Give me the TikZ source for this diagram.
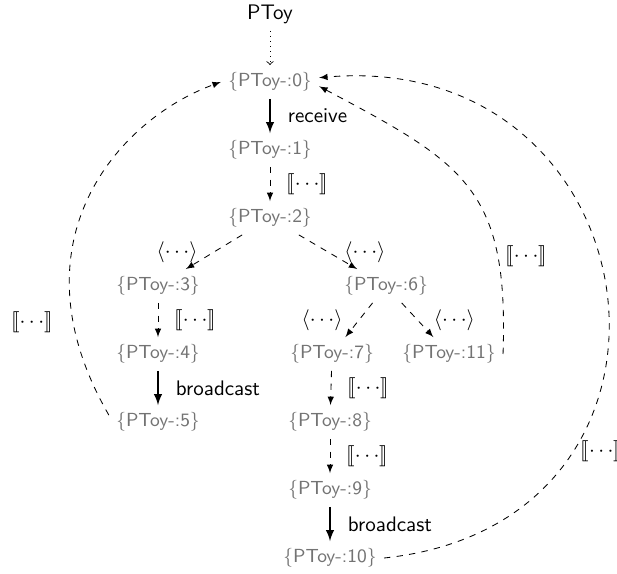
\documentclass[tikz,border=0pt]{standalone}
\usepackage{stmaryrd}
\usetikzlibrary{arrows}
\newlength{\du}
\setlength{\du}{0.475pt}
\definecolor{stategray}{rgb}{0.45,0.45,0.45}
\tikzset{
  state/.style={font=\small\sffamily, text=stategray},
  act/.style={thick, -latex},
  tau/.style={dashed, -latex},
  lbl/.style={font=\sffamily, right=10\du},
  lblr/.style={right=9\du},
  lbll/.style={left=9\du},
}
\begin{document}
\begin{tikzpicture}
\useasboundingbox (0\du,0\du) rectangle (617\du,-574\du);
% states
\node[font=\sffamily] (top) at (270\du,-14\du){PToy};
\node[state] (s0) at (270\du,-82\du){\{PToy-:0\}};
\node[state] (s1) at (270\du,-150\du){\{PToy-:1\}};
\node[state] (s2) at (270\du,-218\du){\{PToy-:2\}};
\node[state] (s3) at (158\du,-286\du){\{PToy-:3\}};
\node[state] (s4) at (158\du,-354\du){\{PToy-:4\}};
\node[state] (s5) at (158\du,-422\du){\{PToy-:5\}};
\node[state] (s6) at (386\du,-286\du){\{PToy-:6\}};
\node[state] (s7) at (332\du,-354\du){\{PToy-:7\}};
\node[state] (s8) at (330\du,-422\du){\{PToy-:8\}};
\node[state] (s9) at (330\du,-490\du){\{PToy-:9\}};
\node[state] (s10) at (330\du,-558\du){\{PToy-:10\}};
\node[state] (s11) at (449\du,-354\du){\{PToy-:11\}};
% transitions
\draw[dotted, ->] (top) -- (s0);
\draw[act] (s0) -- node[lbl]{receive} (s1);
\draw[tau] (s1) -- node[lblr]{$\llbracket\cdots\rrbracket$} (s2);
\draw[tau] (s2) -- node[lbll]{$\langle\cdots\rangle$} (s3);
\draw[tau] (s2) -- node[lblr]{$\langle\cdots\rangle$} (s6);
\draw[tau] (s3) -- node[lblr]{$\llbracket\cdots\rrbracket$} (s4);
\draw[act] (s4) -- node[lbl]{broadcast} (s5);
\draw[tau] (s6) -- node[lbll]{$\langle\cdots\rangle$} (s7);
\draw[tau] (s6) -- node[lblr]{$\langle\cdots\rangle$} (s11);
\draw[tau] (s7) -- node[lblr]{$\llbracket\cdots\rrbracket$} (s8);
\draw[tau] (s8) -- node[lblr]{$\llbracket\cdots\rrbracket$} (s9);
\draw[act] (s9) -- node[lbl]{broadcast} (s10);
% back to the start
\draw[tau] (s5.172) to[out=120, in=200, out looseness=1.45, in looseness=0.8] node[pos=0.19, left=13\du]{$\llbracket\cdots\rrbracket$} (s0.west);
\draw[tau] (s11.east) to[out=88, in=-28, looseness=1.3] node[pos=0.24, right]{$\llbracket\cdots\rrbracket$} (s0.-5);
\draw[tau] (s10.east) to[out=6, in=5, looseness=1.8] node[pos=0.27, right]{$\llbracket\cdots\rrbracket$} (s0.5);
\end{tikzpicture}
\end{document}
